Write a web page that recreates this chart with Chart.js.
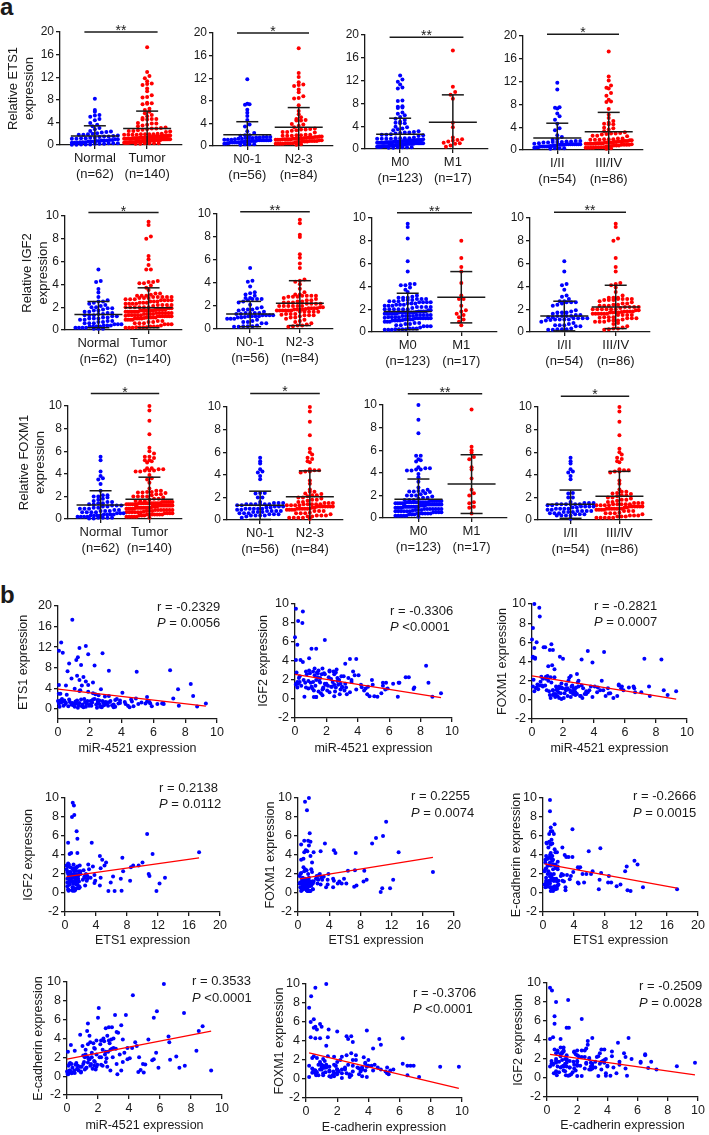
<!DOCTYPE html>
<html>
<head>
<meta charset="utf-8">
<title>ETS1 / IGF2 / FOXM1 expression and correlations</title>
<script src="https://cdn.jsdelivr.net/npm/chart.js@4.4.1/dist/chart.umd.min.js"></script>
<style>
  html, body { margin: 0; padding: 0; background: #fff; }
  body { position: relative; width: 709px; height: 1135px; overflow: hidden;
         font-family: "Liberation Sans", Arial, Helvetica, sans-serif; color: #1a1a1a; }
  canvas { position: absolute; }
  .txt { position: absolute; white-space: nowrap; line-height: 1; font-size: 13px; }
  .letter { position: absolute; font-weight: bold; font-size: 24px; line-height: 1; }
</style>
</head>
<body>
<div class="letter" style="left:0px;top:-5px">a</div>
<div class="letter" style="left:0px;top:583px">b</div>
<script>
// ---------- tumour samples (n = 140), same patient order in every array ----------
const mir4521 = [
  0.9, 0.2, 1.75, 1.35, 0.06, 0.3, 2.8, 1.9, 1.25, 1.15,
  0.7, 1.45, 2.3, 7.05, 3.2, 0.6, 4.95, 1.2, 1.6, 0.85,
  1.35, 1.75, 2.2, 8.35, 0.06, 1.9, 0.5, 1.5, 2.7, 7.55,
  1.35, 0.15, 0.47, 0.5, 0.06, 0.2, 0.0, 0.15, 1.05, 7.25,
  2.5, 3.0, 1.8, 4.4, 5.5, 0.25, 0.35, 0.05, 0.75, 0.85,
  0.1, 0.4, 0.55, 0.65, 0.9, 0.3, 0.7, 0.95, 0.15, 1.35,
  1.3, 1.45, 1.5, 1.7, 1.9, 1.0, 1.2, 1.6, 1.8, 1.4,
  1.55, 1.1, 1.25, 1.65, 1.95, 1.85, 1.05, 1.75, 1.15, 2.05,
  2.5, 2.7, 2.9, 2.2, 2.4, 2.6, 2.75, 2.3, 2.85, 2.1,
  2.95, 2.5, 2.6, 2.8, 2.45, 2.9, 2.2, 2.0, 2.35, 2.65,
  2.15, 2.55, 3.1, 3.8, 3.5, 3.9, 3.6, 3.3, 3.7, 3.4,
  3.9, 3.2, 3.5, 3.25, 3.0, 3.6, 3.15, 4.25, 4.65, 4.75,
  4.6, 4.05, 4.2, 4.5, 4.9, 5.8, 5.6, 5.25, 5.6, 5.75,
  5.05, 5.9, 6.25, 6.55, 6.6, 6.65, 7.6, 8.5, 8.75, 9.3
];
const ets1 = [
  17.3, 12.9, 12.2, 11.8, 11.3, 10.9, 10.8, 10.6, 10.0, 9.5,
  8.8, 8.5, 8.4, 7.5, 7.4, 7.3, 7.2, 6.4, 6.2, 5.9,
  5.6, 5.3, 5.1, 4.8, 4.6, 4.6, 4.5, 4.5, 3.8, 3.8,
  3.45, 1.4, 0.9, 1.15, 1.0, 1.2, 1.5, 1.6, 0.4, 2.0,
  1.7, 1.3, 1.1, 0.6, 1.0, 1.9, 0.6, 2.9, 1.3, 0.8,
  0.4, 1.6, 2.7, 0.5, 1.1, 1.4, 1.8, 0.7, 2.9, 1.1,
  0.7, 1.8, 0.5, 1.3, 3.3, 0.9, 1.6, 0.3, 1.0, 3.6,
  0.8, 1.4, 0.2, 1.9, 0.6, 1.5, 3.9, 0.4, 1.0, 1.5,
  1.0, 0.5, 1.2, 3.0, 0.8, 1.6, 0.3, 1.9, 1.1, 0.6,
  2.4, 1.3, 0.9, 1.5, 0.2, 0.7, 1.8, 0.8, 2.8, 0.4,
  1.2, 2.6, 1.2, 1.0, 0.8, 1.6, 0.4, 1.5, 1.9, 0.7,
  1.1, 2.5, 0.3, 1.3, 0.9, 1.7, 0.6, 0.9, 1.4, 0.5,
  1.8, 3.1, 1.3, 0.3, 2.0, 1.0, 1.4, 1.2, 2.3, 1.3,
  0.9, 0.5, 0.9, 1.0, 1.1, 0.9, 0.6, 2.5, 0.45, 1.0
];
const igf2 = [
  4.3, 1.6, 1.0, 0.2, 4.1, 1.8, 2.0, 6.2, 3.2, 2.9,
  2.9, 2.7, 1.3, 2.3, 3.7, 0.25, 1.5, 0.2, 1.75, 1.1,
  0.2, 3.2, 2.9, 3.5, 1.6, 2.6, 3.9, 0.8, 1.9, 1.05,
  5.3, 1.2, 8.0, 9.2, 9.5, 8.2, 6.5, 5.7, 5.3, 2.3,
  1.5, 1.3, 1.1, 0.9, 0.6, 2.2, 4.1, 1.5, 2.6, 1.9,
  2.8, 1.4, 2.0, 1.7, 3.0, 2.4, 1.2, 2.7, 1.8, 2.0,
  1.4, 2.3, 3.0, 2.6, 1.6, 1.7, 0.9, 2.2, 1.2, 2.8,
  1.9, 1.1, 2.5, 0.6, 1.5, 2.7, 1.3, 0.4, 1.8, 0.9,
  2.6, 2.2, 1.0, 3.0, 1.8, 2.8, 1.5, 2.1, 0.5, 1.4,
  2.4, 0.3, 1.2, 2.0, 2.9, 1.6, 0.7, 1.6, 1.3, 3.1,
  2.3, 0.8, 2.4, 2.5, 4.2, 4.2, 2.0, 0.5, 2.9, 2.2,
  1.0, 1.6, 0.7, 1.2, 1.2, 1.8, 0.9, 1.25, 1.3, 0.3,
  0.5, 2.5, 1.5, 1.1, 2.0, 1.7, 1.7, 0.25, 1.4, 1.0,
  0.3, 1.1, 1.6, 0.25, 1.7, 1.7, 1.2, 1.7, 0.25, 0.6
];
const foxm1 = [
  2.2, 4.3, 1.4, 0.5, 7.5, 6.0, 0.5, 0.1, 5.8, 5.2,
  1.4, 2.35, 1.2, 0.8, 4.2, 2.4, 0.65, 2.35, 1.0, 1.5,
  1.0, 1.2, 1.0, 4.2, 4.5, 1.3, 1.5, 0.6, 0.9, 1.4,
  5.2, 10.0, 9.6, 8.7, 1.4, 4.4, 6.3, 5.4, 3.5, 4.3,
  2.5, 2.0, 1.3, 1.0, 0.4, 1.2, 1.6, 4.4, 5.5, 5.5,
  2.1, 1.1, 1.9, 1.5, 2.4, 1.3, 2.2, 1.0, 0.9, 1.0,
  3.6, 3.2, 0.3, 0.8, 1.7, 2.5, 0.2, 1.1, 4.5, 0.6,
  1.4, 0.9, 1.8, 0.4, 1.2, 0.7, 2.0, 0.2, 0.5, 0.2,
  0.8, 1.2, 0.6, 1.6, 2.3, 0.9, 1.1, 0.4, 1.3, 0.7,
  1.8, 0.3, 1.5, 0.8, 1.0, 2.7, 1.2, 4.3, 2.0, 0.6,
  1.1, 1.4, 0.4, 1.4, 0.9, 3.9, 5.1, 1.2, 1.0, 0.6,
  0.3, 1.5, 0.6, 0.2, 1.4, 0.8, 0.4, 1.3, 5.0, 0.4,
  1.0, 1.4, 0.8, 2.0, 1.2, 1.4, 1.6, 0.2, 1.5, 1.2,
  0.7, 1.0, 1.3, 1.4, 1.2, 0.8, 0.4, 1.0, 0.5, 0.9
];
const ecad = [
  0.4, 0.6, 3.0, 3.4, 0.2, 0.3, 2.8, 2.3, 0.9, 0.7,
  1.1, 1.8, 1.1, 2.1, 4.7, 1.4, 0.4, 2.3, 2.0, 4.4,
  2.0, 1.1, 2.0, 2.7, 2.6, 1.0, 2.7, 1.1, 3.8, 6.7,
  1.45, 1.3, 0.6, 0.33, 0.2, 1.4, 0.5, 0.5, 1.3, 0.9,
  2.6, 3.0, 1.5, 3.6, 1.7, 3.3, 0.9, 0.3, 0.6, 1.0,
  1.1, 0.4, 1.2, 0.8, 0.5, 1.3, 0.7, 1.0, 0.6, 5.6,
  4.8, 4.3, 3.6, 3.5, 3.8, 3.2, 2.8, 2.5, 2.9, 1.8,
  1.3, 1.5, 0.9, 0.8, 1.2, 0.7, 2.2, 1.6, 2.0, 7.25,
  5.1, 5.2, 5.2, 3.8, 3.7, 4.3, 3.5, 2.8, 3.9, 2.0,
  2.0, 1.5, 1.0, 0.6, 2.3, 2.9, 1.2, 6.2, 4.0, 2.6,
  3.4, 1.9, 6.5, 6.5, 5.4, 3.0, 3.9, 4.6, 2.5, 2.3,
  1.8, 1.3, 0.6, 0.2, 4.0, 1.5, 2.9, 8.6, 2.0, 0.65,
  0.45, 1.9, 3.0, 3.2, 1.3, 6.9, 6.2, 3.9, 1.8, 2.5,
  1.25, 0.9, 9.8, 4.2, 3.6, 1.75, 1.1, 4.8, 5.3, 0.6
];
// clinical groups per tumour sample (same order): 0 / 1
const nStage = '1110111111' + '1110001010' + '1011101110' + '0111111111' + '10101' +
  '1011010110' + '0101101101' + '1010110101' + '0110101011' + '1001011010' +
  '1101010101' + '0101101010' + '1010101101' + '0110100100' + '00100';       // N0-1 / N2-3
const mStage = '1000010011' + '1000000000' + '0000100010' + '0010001111' + '11111' +
  '0000000000' + '0000000000' + '0000000000' + '0000000000' + '0000000000' +
  '0000000000' + '0000000000' + '0000000000' + '0000000000' + '00000';       // M0 / M1
const tnmStage = '1110111011' + '1110001010' + '1011101110' + '0111111111' + '10110' +
  '1011010111' + '0101101101' + '1110110100' + '0110101011' + '1011011010' +
  '1101010101' + '0101111010' + '1010101101' + '0110100100' + '00100';       // I/II / III/IV

// ---------- normal tissue (n = 62) ----------
const normalEts1 = [8.2, 6.2, 5.9, 5.3, 5.2, 5.0, 4.6, 4.4, 3.9, 3.6, 3.3, 3.0, 2.8, 2.5, 2.4, 2.3,
  2.2, 2.1, 2.0, 1.9, 1.8, 1.8, 1.7, 1.6, 1.5, 1.5, 1.4, 1.3, 1.3, 1.2, 1.2, 1.1, 1.1, 1.0, 1.0,
  0.9, 0.9, 0.8, 0.8, 0.8, 0.7, 0.7, 0.6, 0.6, 0.6, 0.5, 0.5, 0.5, 0.4, 0.4, 0.4, 0.3, 0.3, 0.3,
  0.2, 0.2, 0.2, 0.1, 0.1, 0.1, 0.05, 0.05];
const normalIgf2 = [5.3, 4.3, 4.2, 3.6, 3.3, 2.9, 2.6, 2.5, 2.5, 2.4, 2.3, 2.2, 2.1, 2.0, 2.0, 1.9,
  1.9, 1.8, 1.7, 1.7, 1.6, 1.6, 1.5, 1.5, 1.4, 1.4, 1.3, 1.3, 1.3, 1.2, 1.2, 1.1, 1.1, 1.0, 1.0,
  1.0, 0.9, 0.9, 0.8, 0.8, 0.7, 0.7, 0.6, 0.6, 0.6, 0.5, 0.5, 0.5, 0.4, 0.4, 0.4, 0.3, 0.3, 0.3,
  0.3, 0.2, 0.2, 0.2, 0.2, 0.1, 0.1, 0.1];
const normalFoxm1 = [5.5, 5.2, 4.2, 3.8, 3.6, 3.5, 3.1, 2.5, 2.1, 2.1, 2.0, 2.0, 1.9, 1.8, 1.7, 1.6,
  1.5, 1.5, 1.4, 1.4, 1.3, 1.3, 1.2, 1.2, 1.2, 1.1, 1.1, 1.0, 1.0, 0.9, 0.9, 0.9, 0.8, 0.8, 0.7,
  0.7, 0.7, 0.6, 0.6, 0.6, 0.6, 0.5, 0.5, 0.5, 0.4, 0.4, 0.4, 0.4, 0.3, 0.3, 0.3, 0.3, 0.2, 0.2,
  0.2, 0.2, 0.1, 0.1, 0.1, 0.1, 0.05, 0.05];

// ---------- group summaries: Normal, Tumor, N0-1, N2-3, M0, M1, I/II, III/IV ----------
const groupLabels = [['Normal', '(n=62)'], ['Tumor', '(n=140)'], ['N0-1', '(n=56)'], ['N2-3', '(n=84)'],
  ['M0', '(n=123)'], ['M1', '(n=17)'], ['I/II', '(n=54)'], ['III/IV', '(n=86)']];
const ets1Mean = [1.6, 2.9, 2.0, 3.3, 2.6, 4.7, 2.1, 3.2];
const ets1Sd = [1.8, 3.1, 2.3, 3.5, 2.8, 4.8, 2.6, 3.4];
const igf2Mean = [1.35, 1.95, 1.3, 2.25, 1.8, 3.05, 1.4, 2.2];
const igf2Sd = [1.15, 1.75, 1.1, 1.95, 1.6, 2.25, 1.3, 1.9];
const foxm1Mean = [1.25, 1.75, 1.3, 2.05, 1.65, 3.0, 1.4, 2.1];
const foxm1Sd = [1.25, 1.95, 1.25, 2.3, 1.8, 2.6, 1.25, 2.2];
const ets1Stars = ['**', '*', '**', '*'];
const igf2Stars = ['*', '**', '**', '**'];
const foxm1Stars = ['*', '*', '**', '*'];

// ---------- correlations ----------
const rValues = ['-0.2329', '-0.3306', '-0.2821', '0.2138', '0.2255', '-0.2666', '0.3533', '-0.3706', '-0.2509'];
const pValues = ['= 0.0056', '<0.0001', '= 0.0007', '= 0.0112', '= 0.0074', '= 0.0015', '<0.0001', '<0.0001', '= 0.0028'];
const fitIntercept = [3.8, 2.6, 2.5, 1.7, 1.45, 3.1, 1.8, 2.83, 2.53];
const fitSlope = [-0.355, -0.265, -0.26, 0.116, 0.133, -0.15, 0.32, -0.39, -0.225];
const xTitles = ['miR-4521 expression', 'miR-4521 expression', 'miR-4521 expression',
  'ETS1 expression', 'ETS1 expression', 'ETS1 expression',
  'miR-4521 expression', 'E-cadherin expression', 'E-cadherin expression'];
const yTitles = ['ETS1 expression', 'IGF2 expression', 'FOXM1 expression',
  'IGF2 expression', 'FOXM1 expression', 'E-cadherin expression',
  'E-cadherin expression', 'FOXM1 expression', 'IGF2 expression'];

// tick labels
const ticks0to20 = [0, 4, 8, 12, 16, 20];
const ticks0to10 = [0, 2, 4, 6, 8, 10];
const ticksNeg2to10 = [-2, 0, 2, 4, 6, 8, 10];

// ---------- drawing ----------
const FONT = '"Liberation Sans", Arial, Helvetica, sans-serif';
const INK = '#1a1a1a', BLUE = '#0000ff', RED = '#ff0000';
Chart.defaults.font.family = FONT;

const starPlugin = {
  id: 'stars',
  afterDatasetsDraw(chart, args, opts) {
    if (!opts || !opts.text) return;
    const ctx = chart.ctx;
    ctx.save();
    ctx.fillStyle = INK;
    ctx.font = '14px ' + FONT;
    ctx.textAlign = 'center';
    ctx.textBaseline = 'alphabetic';
    ctx.fillText(opts.text, chart.scales.x.getPixelForValue(opts.x), chart.scales.y.getPixelForValue(opts.y) + 3);
    ctx.restore();
  }
};

function axis(min, max, tickVals, labels, tickSize, title) {
  return {
    type: 'linear', min, max,
    afterBuildTicks: s => { s.ticks = tickVals.map(v => ({ value: v })); },
    ticks: {
      color: INK, font: { family: FONT, size: tickSize, lineHeight: 1.2 }, padding: 2,
      autoSkip: false, maxRotation: 0, minRotation: 0,
      callback: labels ? ((v, i) => labels[i]) : (v => v)
    },
    grid: { drawOnChartArea: false, drawTicks: true, tickLength: 4, color: INK, lineWidth: 1.3 },
    border: { display: true, color: INK, width: 1.3 },
    title: title
      ? { display: true, text: title.text, color: INK, padding: 0, font: { family: FONT, size: title.size, lineHeight: title.lh } }
      : { display: false }
  };
}

function makeChart(o) {
  const [l, r, t, b] = o.rect;
  const top = t - o.padTop;
  const width = Math.round(r + o.padRight - o.left);
  const height = Math.round(b + o.axisH - top);
  const cv = document.createElement('canvas');
  cv.width = width; cv.height = height;
  cv.style.left = o.left + 'px'; cv.style.top = top + 'px';
  cv.style.width = width + 'px'; cv.style.height = height + 'px';
  document.body.appendChild(cv);
  const yW = l - o.left, xH = o.axisH;
  o.x.afterFit = s => { s.height = xH; };
  o.y.afterFit = s => { s.width = yW; };
  return new Chart(cv.getContext('2d'), {
    type: 'scatter',
    data: { datasets: o.datasets },
    options: {
      responsive: false, animation: false, devicePixelRatio: 1, events: [],
      layout: { padding: { top: o.padTop, right: o.padRight, left: 0, bottom: 0 }, autoPadding: false },
      plugins: { legend: { display: false }, tooltip: { enabled: false }, stars: o.stars || {} },
      scales: { x: o.x, y: o.y }
    },
    plugins: [starPlugin]
  });
}

// lay out points of one group in horizontal rows (scatter dot plot)
function swarm(vals, cx, pxX, pxY) {
  const bin = 4, gap = 4.6, maxHalf = 23;
  const rows = new Map();
  [...vals].sort((a, b) => a - b).forEach(v => {
    const k = Math.round(v * pxY / bin);
    if (!rows.has(k)) rows.set(k, []);
    rows.get(k).push(v);
  });
  const pts = [];
  rows.forEach(row => {
    const n = row.length, sp = n > 1 ? Math.min(gap, 2 * maxHalf / (n - 1)) : 0;
    row.forEach((v, i) => pts.push({ x: cx + (i - (n - 1) / 2) * sp / pxX, y: v }));
  });
  return pts;
}

function split(vals, flags) {
  const a = [], b = [];
  vals.forEach((v, i) => (flags[i] === '1' ? b : a).push(v));
  return [a, b];
}

const genes = [
  { name: 'ETS1', tumour: ets1, normal: normalEts1, mean: ets1Mean, sd: ets1Sd, stars: ets1Stars, max: 20, ticks: ticks0to20, bracket: [20, 20, 19.6, 20.3] },
  { name: 'IGF2', tumour: igf2, normal: normalIgf2, mean: igf2Mean, sd: igf2Sd, stars: igf2Stars, max: 10, ticks: ticks0to10, bracket: [10.3, 10.2, 10.45, 10.5] },
  { name: 'FOXM1', tumour: foxm1, normal: normalFoxm1, mean: foxm1Mean, sd: foxm1Sd, stars: foxm1Stars, max: 10, ticks: ticks0to10, bracket: [11.1, 11.2, 11.0, 10.95] }
];
// plot areas [left, right, top, bottom] in page pixels
const aLayout = [
  [[60, 182, 32, 145], [213, 333, 33, 146], [365, 488, 35, 149], [523, 643, 36, 150]],
  [[65, 182, 216, 330], [217, 333, 214, 329], [372, 497, 218, 332], [530, 650, 218, 332]],
  [[68, 182, 406, 519], [227, 343, 407, 520], [383, 507, 405, 518], [538, 652, 407, 520]]
];
const aTitleX = [13, 27, 24];
const catX = [1, 2.5];

function dotPanel(row, col) {
  const g = genes[row];
  const [l, r, t, b] = aLayout[row][col];
  const pxX = (r - l) / 3.5, pxY = (b - t) / g.max;
  const groups = col === 0 ? [g.normal, g.tumour] : split(g.tumour, [nStage, mStage, tnmStage][col - 1]);
  const seg = pts => ({ data: pts, showLine: true, borderColor: INK, borderWidth: 1.5, pointRadius: 0, clip: false, order: 0 });
  const ds = [];
  groups.forEach((vals, gi) => {
    const k = col * 2 + gi, cx = catX[gi];
    const m = g.mean[k], s = g.sd[k];
    const w = 24 / pxX, c = 11 / pxX;
    ds.push(seg([{ x: cx - w, y: m }, { x: cx + w, y: m }]));
    ds.push(seg([{ x: cx, y: Math.max(m - s, 0) }, { x: cx, y: m + s }]));
    ds.push(seg([{ x: cx - c, y: m + s }, { x: cx + c, y: m + s }]));
    if (m - s > 0.05) ds.push(seg([{ x: cx - c, y: m - s }, { x: cx + c, y: m - s }]));
    const col2 = gi ? RED : BLUE;
    ds.push({ data: swarm(vals, cx, pxX, pxY), backgroundColor: col2, borderColor: col2, pointRadius: 2.0, pointBorderWidth: 0, clip: false, order: 1 });
  });
  const by = g.bracket[col];
  ds.push(seg([{ x: 0.7, y: by }, { x: 2.8, y: by }]));
  const lh = 13 * 1.25;
  const left = col === 0 ? Math.round(aTitleX[row] - lh / 2) : l - 28;
  makeChart({
    rect: [l, r, t, b], left, padTop: 30, padRight: 10, axisH: 42,
    x: axis(0, 3.5, catX, groupLabels.slice(col * 2, col * 2 + 2), 13, null),
    y: axis(0, g.max, g.ticks, null, 12, col === 0 ? { text: ['Relative ' + g.name, 'expression'], size: 13, lh: 1.25 } : null),
    datasets: ds,
    stars: { text: g.stars[col], x: 1.75, y: by }
  });
}

const corrX = [mir4521, mir4521, mir4521, ets1, ets1, ets1, mir4521, ecad, ecad];
const corrY = [ets1, igf2, foxm1, igf2, foxm1, ecad, ecad, foxm1, igf2];
const bLayout = [
  { rect: [58, 217, 606, 719], tx: 23, ty: 748, note: [157, 606, 622] },
  { rect: [295, 452, 604, 718], tx: 263, ty: 748, note: [390, 610, 626] },
  { rect: [532, 687, 604, 719], tx: 502, ty: 748, note: [594, 605, 621] },
  { rect: [65, 220, 798, 912], tx: 28, ty: 940, note: [159, 787, 803] },
  { rect: [298, 454, 798, 912], tx: 270, ty: 940, note: [411, 795, 812] },
  { rect: [543, 698, 798, 912], tx: 516, ty: 940, note: [633, 795, 812] },
  { rect: [67, 222, 982, 1095], tx: 38, ty: 1125, note: [192, 980, 997] },
  { rect: [306, 462, 984, 1098], tx: 279, ty: 1127, note: [413, 992, 1008] },
  { rect: [547, 698, 983, 1097], tx: 518, ty: 1125, note: [639, 985, 1002] }
];

function addNote(x, y, parts) {
  const d = document.createElement('div');
  d.className = 'txt';
  d.style.left = x + 'px';
  d.style.top = (y - 6.5) + 'px';
  parts.forEach(([txt, italic]) => {
    const s = document.createElement(italic ? 'i' : 'span');
    s.textContent = txt;
    d.appendChild(s);
  });
  document.body.appendChild(d);
}

function corrPanel(i) {
  const L = bLayout[i];
  const [l, r, t, b] = L.rect;
  const xs = corrX[i], ys = corrY[i];
  const pts = xs.map((v, k) => ({ x: v, y: ys[k] }));
  const x0 = Math.min(...xs), x1 = Math.max(...xs);
  const fit = [{ x: x0, y: fitIntercept[i] + fitSlope[i] * x0 }, { x: x1, y: fitIntercept[i] + fitSlope[i] * x1 }];
  const wideX = xs === ets1;
  const tallY = i === 0;
  const lh = 12.5 * 1.2;
  makeChart({
    rect: L.rect, left: Math.round(L.tx - lh / 2), padTop: 10, padRight: 14, axisH: Math.round(L.ty + lh / 2 - b),
    x: axis(0, wideX ? 20 : 10, wideX ? ticks0to20 : ticks0to10, null, 12.5, { text: xTitles[i], size: 12.5, lh: 1.2 }),
    y: axis(-2, tallY ? 20 : 10, tallY ? ticks0to20 : ticksNeg2to10, null, 12.5, { text: yTitles[i], size: 12.5, lh: 1.2 }),
    datasets: [
      { data: fit, showLine: true, borderColor: RED, borderWidth: 1.3, pointRadius: 0, clip: false, order: 0 },
      { data: pts, backgroundColor: BLUE, borderColor: BLUE, pointRadius: 2.0, pointBorderWidth: 0, clip: false, order: 1 }
    ]
  });
  addNote(L.note[0], L.note[1], [['r = ' + rValues[i], false]]);
  addNote(L.note[0], L.note[2], [['P', true], [' ' + pValues[i], false]]);
}

for (let row = 0; row < 3; row++) for (let col = 0; col < 4; col++) dotPanel(row, col);
for (let i = 0; i < 9; i++) corrPanel(i);
</script>
</body>
</html>
